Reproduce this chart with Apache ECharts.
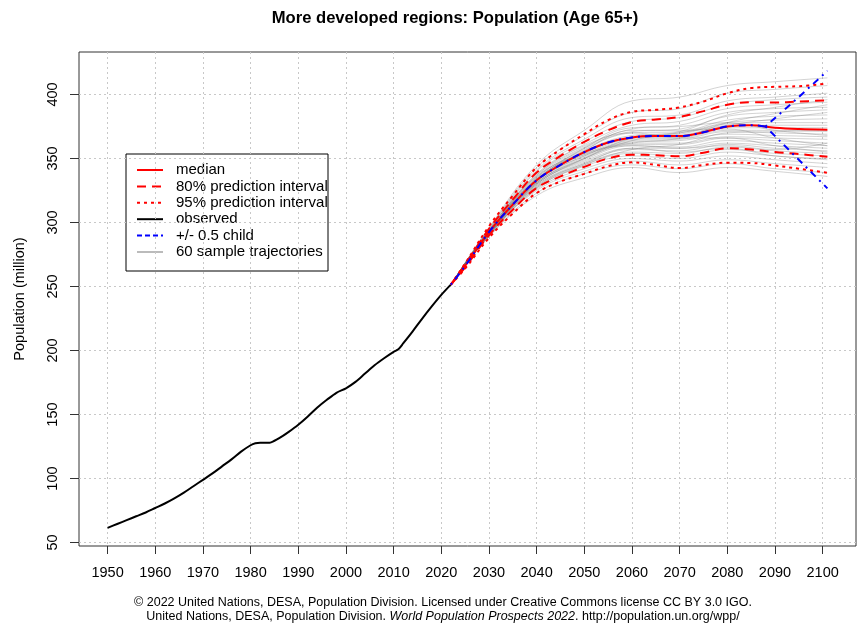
<!DOCTYPE html>
<html>
<head>
<meta charset="utf-8">
<title>More developed regions: Population (Age 65+)</title>
<script src="https://cdn.jsdelivr.net/npm/echarts@6.0.0/dist/echarts.min.js"></script>
<style>
  html, body { margin: 0; padding: 0; background: #fff; }
  #chart { width: 859px; height: 625px; }
</style>
</head>
<body>
<div id="chart"></div>
<script>
// observed, 1950-2022
var obsYears = [1950, 1952, 1954, 1956, 1958, 1960, 1962, 1964, 1966, 1968, 1970, 1972, 1974, 1976, 1978,
  1980, 1981, 1982, 1983, 1984, 1985, 1986, 1988, 1990, 1992, 1994, 1996, 1998, 2000, 2002, 2004,
  2006, 2008, 2010, 2011, 2012, 2014, 2016, 2018, 2020, 2022]
var obsValues = [61.5, 64.5, 67.5, 70.5, 73.5, 77, 80.5, 84.5, 89, 94, 99, 104, 109.5, 115, 121,
  126, 127.5, 128, 128, 128, 129.5, 131.5, 136.5, 142, 148.5, 155.5, 161.5, 167, 170.5, 175.5, 182,
  188.5, 194, 199, 201, 205.5, 215, 225, 234.5, 243.5, 251.5]

// projections
var projYears = [2022, 2025, 2030, 2035, 2040, 2045, 2050, 2055, 2060, 2065, 2070, 2075, 2080, 2085, 2090, 2095, 2101]
var median = [251.5, 266, 292.5, 314, 333, 345, 355, 362.5, 366.5, 367.5, 367.5, 370.5, 375, 376, 374, 373, 372.5]
var upper80 = [251.5, 267, 295, 318, 339, 352, 363, 372, 378.5, 380.5, 382.5, 387, 392, 394, 393.8, 394.5, 395.5]
var lower80 = [251.5, 265, 290, 310, 327, 336, 343.5, 350, 353, 352.5, 351.8, 354.5, 358, 357, 355, 353.5, 351.3]
var upper95 = [251.5, 268, 297, 321, 343, 357, 369, 380, 386.5, 388, 390, 394.5, 401, 405, 406, 406.5, 408.5]
var lower95 = [251.5, 264, 288, 307, 323, 332, 338, 344, 347, 345, 342.5, 345, 346.7, 346.5, 344.5, 342, 338.8]

// +/- 0.5 child: same as median until 2088, then two branches
var childYears = [2022, 2025, 2030, 2035, 2040, 2045, 2050, 2055, 2060, 2065, 2070, 2075, 2080, 2085, 2088]
var childShared = [251.5, 266, 292.5, 314, 333, 345, 355, 362.5, 366.5, 367.5, 367.5, 370.5, 375, 376, 375]
var branchYears = [2088, 2095, 2101]
var childHigh = [375, 398, 418.5]
var childLow = [375, 349, 326.7]

// sample trajectories
var trajYears = [2022, 2030, 2040, 2050, 2060, 2070, 2080, 2090, 2101]
var trajectories = [
  [251.5, 296, 345, 372, 395, 398, 407, 410, 413],
  [251.5, 295, 343, 368, 386, 389, 401, 404, 407],
  [251.5, 295, 341, 365, 382, 384, 395, 398, 401],
  [251.5, 294, 340, 363, 379, 382, 392, 396, 398],
  [251.5, 294, 338, 361, 376, 379, 389, 392, 394],
  [251.5, 294, 337, 359, 373, 376, 386, 389, 390],
  [251.5, 293, 336, 358, 371, 373, 383, 386, 388],
  [251.5, 293, 335, 357, 370, 371, 380, 383, 384],
  [251.5, 293, 335, 356, 368, 370, 378, 380, 381],
  [251.5, 293, 334, 355, 367, 369, 377, 378, 378],
  [251.5, 293, 334, 355, 366, 368, 375, 376, 376],
  [251.5, 292, 333, 354, 366, 367, 374, 374, 374],
  [251.5, 292, 333, 353, 365, 366, 372, 372, 371],
  [251.5, 292, 332, 352, 364, 365, 371, 370, 369],
  [251.5, 292, 332, 352, 363, 364, 369, 368, 367],
  [251.5, 292, 331, 351, 362, 362, 367, 366, 365],
  [251.5, 292, 331, 350, 361, 361, 366, 364, 362],
  [251.5, 291, 330, 349, 360, 359, 364, 362, 360],
  [251.5, 291, 330, 348, 358, 358, 362, 360, 358],
  [251.5, 291, 329, 347, 357, 356, 361, 358, 356],
  [251.5, 291, 328, 346, 355, 354, 359, 356, 354],
  [251.5, 291, 328, 345, 354, 352, 357, 354, 352],
  [251.5, 290, 327, 344, 352, 350, 355, 352, 349],
  [251.5, 290, 326, 342, 350, 348, 352, 349, 346],
  [251.5, 290, 325, 340, 348, 345, 349, 346, 343],
  [251.5, 289, 323, 338, 345, 342, 346, 342, 339],
  [251.5, 289, 321, 335, 343, 339, 343, 340, 336],
  [251.5, 294, 336, 354, 362, 366, 378, 385, 392],
  [251.5, 291, 332, 356, 372, 372, 373, 366, 360],
  [251.5, 292, 330, 350, 366, 371, 384, 390, 396],
  [251.5, 293, 337, 360, 370, 366, 366, 360, 355],
  [251.5, 290, 327, 345, 357, 361, 370, 371, 372],
  [251.5, 292, 334, 353, 360, 358, 360, 357, 362],
  [251.5, 291, 331, 350, 364, 370, 376, 381, 386],
  [251.5, 293, 333, 358, 374, 375, 378, 372, 368],
  [251.5, 290, 329, 346, 358, 355, 358, 352, 350]
]

// axis ticks
var xTicks = [1950, 1960, 1970, 1980, 1990, 2000, 2010, 2020, 2030, 2040, 2050, 2060, 2070, 2080, 2090, 2100]
var yTicks = [50, 100, 150, 200, 250, 300, 350, 400]

var FONT = 'Liberation Sans'

function pairs(xs, ys) {
  return xs.map(function (x, i) { return [x, ys[i]] })
}

var series = []

trajectories.forEach(function (row, i) {
  series.push({
    name: 'traj' + i,
    type: 'line',
    data: pairs(trajYears, row),
    smooth: 0.4,
    symbol: 'none',
    silent: true,
    z: 1,
    lineStyle: { color: 'rgba(110,110,110,0.3)', width: 1 }
  })
})

series.push({
  name: 'observed', type: 'line', data: pairs(obsYears, obsValues), smooth: 0.3, symbol: 'none', z: 3,
  lineStyle: { color: '#000', width: 2 }
})
series.push({
  name: '95% upper', type: 'line', data: pairs(projYears, upper95), smooth: 0.4, symbol: 'none', z: 4,
  lineStyle: { color: '#ff0000', width: 2, type: [3, 4] }
})
series.push({
  name: '95% lower', type: 'line', data: pairs(projYears, lower95), smooth: 0.4, symbol: 'none', z: 4,
  lineStyle: { color: '#ff0000', width: 2, type: [3, 4] }
})
series.push({
  name: '80% upper', type: 'line', data: pairs(projYears, upper80), smooth: 0.4, symbol: 'none', z: 4,
  lineStyle: { color: '#ff0000', width: 2, type: [9, 6] }
})
series.push({
  name: '80% lower', type: 'line', data: pairs(projYears, lower80), smooth: 0.4, symbol: 'none', z: 4,
  lineStyle: { color: '#ff0000', width: 2, type: [9, 6] }
})
series.push({
  name: 'median', type: 'line', data: pairs(projYears, median), smooth: 0.4, symbol: 'none', z: 5,
  lineStyle: { color: '#ff0000', width: 2 }
})
// blue +/- 0.5 child lines
var blueStyle = { color: '#0000ff', width: 2, type: [2, 5, 7, 5] }
series.push({
  name: 'child', type: 'line', data: pairs(childYears, childShared), smooth: 0.4, symbol: 'none', z: 6,
  lineStyle: blueStyle
})
series.push({
  name: 'child high', type: 'line', data: pairs(branchYears, childHigh), symbol: 'none', z: 6,
  lineStyle: blueStyle
})
series.push({
  name: 'child low', type: 'line', data: pairs(branchYears, childLow), symbol: 'none', z: 6,
  lineStyle: blueStyle
})

// legend drawn by hand (R style box)
var legendItems = [
  { text: 'median', color: '#ff0000', dash: null },
  { text: '80% prediction interval', color: '#ff0000', dash: [9, 6] },
  { text: '95% prediction interval', color: '#ff0000', dash: [3, 4] },
  { text: 'observed', color: '#000', dash: null },
  { text: '+/- 0.5 child', color: '#0000ff', dash: [5, 3] },
  { text: '60 sample trajectories', color: '#bbbbbb', dash: null }
]
var legendEls = [{
  type: 'rect', shape: { x: 126, y: 154, width: 202, height: 117 },
  style: { fill: '#fff', stroke: '#000', lineWidth: 1 }
}]
legendItems.forEach(function (it, i) {
  var y = 170 + i * 16.4
  legendEls.push({
    type: 'line', shape: { x1: 137, y1: y, x2: 163, y2: y },
    style: { stroke: it.color, lineWidth: 2, lineDash: it.dash }
  })
  legendEls.push({
    type: 'text', x: 176, y: y,
    style: { text: it.text, fill: '#000', font: '15px ' + FONT, textVerticalAlign: 'middle' }
  })
})

var chart = echarts.init(document.getElementById('chart'), null, { renderer: 'canvas' })
chart.setOption({
  animation: false,
  grid: {
    left: 79, right: 3, top: 52, bottom: 79,
    show: true, borderColor: '#333', borderWidth: 1
  },
  xAxis: {
    type: 'value',
    min: 1944, max: 2107,
    axisLine: { show: false },
    axisTick: { customValues: xTicks, length: 8, lineStyle: { color: '#333' } },
    axisLabel: {
      customValues: xTicks, margin: 19, fontSize: 14.5, color: '#000', fontFamily: FONT,
      formatter: function (v) { return String(v) }
    },
    splitLine: { show: true, lineStyle: { type: [2, 3], color: '#c8c8c8', width: 1 } }
  },
  yAxis: {
    type: 'value',
    min: 47.3, max: 433.2,
    name: 'Population (million)',
    nameLocation: 'middle',
    nameGap: 52,
    nameTextStyle: { fontSize: 14.5, color: '#000', fontFamily: FONT },
    axisLine: { show: false },
    axisTick: { customValues: yTicks, length: 9, lineStyle: { color: '#333' } },
    axisLabel: { customValues: yTicks, rotate: 90, margin: 19, fontSize: 14.5, color: '#000', fontFamily: FONT },
    splitLine: { show: true, lineStyle: { type: [2, 3], color: '#c8c8c8', width: 1 } }
  },
  graphic: [
    {
      type: 'text', x: 455, y: 18, z: 100,
      style: {
        text: 'More developed regions: Population (Age 65+)',
        font: 'bold 16.6px ' + FONT, fill: '#000', textAlign: 'center', textVerticalAlign: 'middle'
      }
    },
    {
      type: 'text', x: 443, y: 603, z: 100,
      style: {
        text: '\u00a9 2022 United Nations, DESA, Population Division. Licensed under Creative Commons license CC BY 3.0 IGO.',
        font: '12.5px ' + FONT, fill: '#000', textAlign: 'center', textVerticalAlign: 'middle'
      }
    },
    {
      type: 'text', x: 443, y: 617, z: 100,
      style: {
        text: '{n|United Nations, DESA, Population Division. }{i|World Population Prospects 2022}{n|. http://population.un.org/wpp/}',
        textAlign: 'center', textVerticalAlign: 'middle',
        rich: {
          n: { font: '12.5px ' + FONT, fill: '#000' },
          i: { font: 'italic 12.5px ' + FONT, fill: '#000' }
        }
      }
    },
    { type: 'group', z: 100, children: legendEls }
  ],
  series: series
})
</script>
</body>
</html>
